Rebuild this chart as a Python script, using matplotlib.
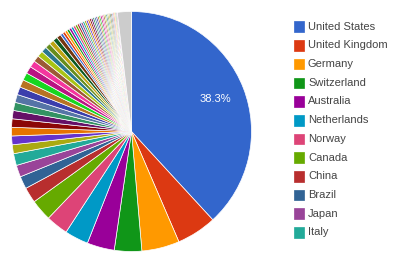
import matplotlib
matplotlib.use("Agg")
import matplotlib.pyplot as plt
from matplotlib.patches import Rectangle

# countries shown in the legend (first 12 slices)
countries = ['United States', 'United Kingdom', 'Germany', 'Switzerland',
             'Australia', 'Netherlands', 'Norway', 'Canada', 'China',
             'Brazil', 'Japan', 'Italy']

# share in percent
top_shares = [38.3, 5.4, 5.1, 3.7, 3.7, 3.2, 3.0, 2.9, 2.1, 1.7, 1.6, 1.6]
mid_shares = [1.2, 1.18, 1.16, 1.14, 1.12, 1.1, 1.08, 1.06, 1.04, 1.02, 0.98,
              0.9, 0.85, 0.8, 0.75, 0.7, 0.65, 0.62, 0.6]
tail_shares = [0.36, 0.35, 0.34, 0.33, 0.32, 0.31, 0.30, 0.29, 0.28, 0.27,
               0.26, 0.25, 0.25, 0.24, 0.24, 0.23, 0.23, 0.22, 0.22, 0.21,
               0.21, 0.20, 0.20, 0.19, 0.19, 0.18, 0.18, 0.17, 0.17, 0.16,
               0.16, 0.15, 0.15, 0.14, 0.14, 0.13]
other_share = 1.9

palette = ['#3366cc', '#dc3912', '#ff9900', '#109618', '#990099', '#0099c6',
           '#dd4477', '#66aa00', '#b82e2e', '#316395', '#994499', '#22aa99',
           '#aaaa11', '#6633cc', '#e67300', '#8b0707', '#651067', '#329262',
           '#5574a6', '#3b3eac', '#b77322', '#16d620', '#b91383', '#f4359e',
           '#9c5935', '#a9c413', '#2a778d', '#668d1c', '#bea413', '#0c5922',
           '#743411']

shares = top_shares + mid_shares + tail_shares
colors = [palette[i % len(palette)] for i in range(len(shares))]
shares.append(other_share)
colors.append('#cccccc')

W, H = 400, 265
fig = plt.figure(figsize=(W / 100, H / 100), dpi=100)
fig.patch.set_facecolor('white')

# pie box: centre (131.5, 131.5) px, radius 120 px
ax = fig.add_axes([11.5 / W, (H - 251.5) / H, 240 / W, 240 / H])
total = sum(shares)
labels = ['%.1f%%' % top_shares[0] if i == 0 else '' for i in range(len(shares))]
wedges, texts = ax.pie(shares, colors=colors, startangle=90, counterclock=False,
                       labels=labels, labeldistance=0.75,
                       wedgeprops=dict(edgecolor='white', linewidth=0.5))
for t in texts:
    t.set_color('white')
    t.set_fontsize(8)
    t.set_family('Liberation Sans')
    t.set_ha('center')
    t.set_va('center')
ax.set_xlim(-1, 1)
ax.set_ylim(-1, 1)
ax.set_aspect('equal')
ax.axis('off')

# legend
y0 = 26.7
step = 18.7
for i, name in enumerate(countries):
    yc = y0 + i * step
    fig.patches.append(Rectangle((293.5 / W, (H - yc - 5.3) / H), 10.6 / W, 10.6 / H,
                                 facecolor=colors[i], edgecolor=colors[i],
                                 linewidth=0.5, transform=fig.transFigure, figure=fig))
    fig.text(308 / W, (H - yc) / H, name, fontsize=8, family='Liberation Sans',
             color='#444444', ha='left', va='center')

fig.savefig('out.png', dpi=100, facecolor='white')
